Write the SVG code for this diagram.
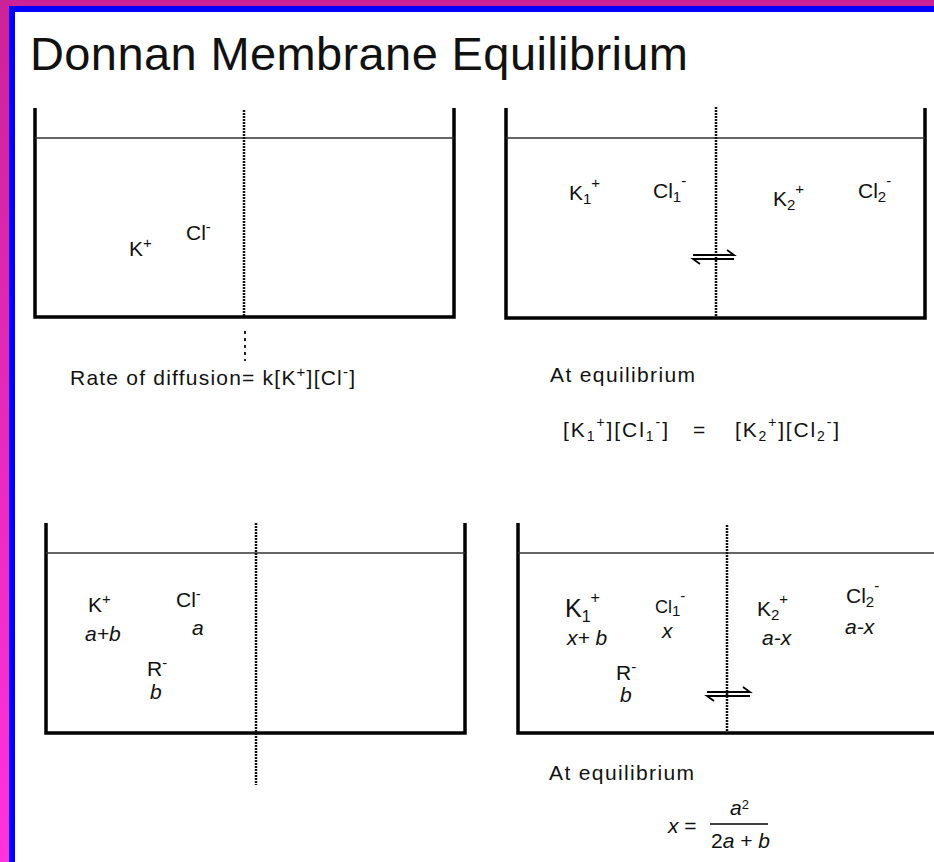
<svg xmlns="http://www.w3.org/2000/svg" width="934" height="862" viewBox="0 0 934 862">
<defs>
<linearGradient id="mag" x1="0" y1="0" x2="0" y2="1">
<stop offset="0" stop-color="#cc2299"/>
<stop offset="1" stop-color="#ff33dd"/>
</linearGradient>
</defs>
<style>
text{font-family:"Liberation Sans",Arial,sans-serif;fill:#111;}
.lbl{font-size:21px;}
.it{font-style:italic;}
.wall{fill:none;stroke:#000;stroke-width:3.5;}
.water{stroke:#333;stroke-width:1.5;}
.mem{stroke:#111;stroke-width:2.5;stroke-dasharray:2 1;}
.harp{stroke:#000;stroke-width:1.8;fill:none;}
</style>
<rect width="934" height="862" fill="#fff"/>
<rect x="0" y="0" width="9" height="862" fill="url(#mag)"/>
<rect x="0" y="0" width="934" height="6" fill="#cc2299"/>
<rect x="9" y="6" width="6" height="856" fill="#0000ff"/>
<rect x="9" y="6" width="925" height="6" fill="#0000ff"/>

<text id="title" x="30" y="70" font-size="47" textLength="658" lengthAdjust="spacing">Donnan Membrane Equilibrium</text>

<g id="beaker1">
<path class="wall" d="M35 108 V317 H454 V108"/>
<line class="water" x1="35" y1="138" x2="454" y2="138"/>
<line class="mem" x1="244" y1="110" x2="244" y2="316"/>
<line stroke="#222" stroke-width="2" stroke-dasharray="3 4" x1="245" y1="331" x2="245" y2="361"/>
<text class="lbl" x="129" y="256">K<tspan dy="-8" font-size="15">+</tspan></text>
<text class="lbl" x="186" y="240">Cl<tspan dy="-8" font-size="15">-</tspan></text>
<text class="lbl" x="70" y="385" textLength="285" lengthAdjust="spacing">Rate of diffusion= k[K<tspan dy="-8" font-size="15">+</tspan><tspan dy="8">][Cl</tspan><tspan dy="-8" font-size="15">-</tspan><tspan dy="8">]</tspan></text>
</g>

<g id="beaker2">
<path class="wall" d="M506 108 V318 H925 V108"/>
<line class="water" x1="506" y1="138" x2="925" y2="138"/>
<line class="mem" x1="716" y1="107" x2="716" y2="317"/>
<text class="lbl" x="569" y="200">K<tspan dy="4" font-size="15">1</tspan><tspan dy="-16" font-size="15">+</tspan></text>
<text class="lbl" x="653" y="198">Cl<tspan dy="4" font-size="15">1</tspan><tspan dy="-16" font-size="15">-</tspan></text>
<text class="lbl" x="773" y="206">K<tspan dy="4" font-size="15">2</tspan><tspan dy="-16" font-size="15">+</tspan></text>
<text class="lbl" x="858" y="198">Cl<tspan dy="4" font-size="15">2</tspan><tspan dy="-16" font-size="15">-</tspan></text>
<text class="lbl" x="550" y="382" textLength="145" lengthAdjust="spacing">At equilibrium</text>
<text class="lbl" x="563" y="437" textLength="105" lengthAdjust="spacing">[K<tspan dy="4" font-size="14">1</tspan><tspan dy="-14" font-size="14">+</tspan><tspan dy="10">][Cl</tspan><tspan dy="4" font-size="14">1</tspan><tspan dy="-14" font-size="14">-</tspan><tspan dy="10">]</tspan></text>
<text class="lbl" x="693" y="437">=</text>
<text class="lbl" x="735" y="437" textLength="104" lengthAdjust="spacing">[K<tspan dy="4" font-size="14">2</tspan><tspan dy="-14" font-size="14">+</tspan><tspan dy="10">][Cl</tspan><tspan dy="4" font-size="14">2</tspan><tspan dy="-14" font-size="14">-</tspan><tspan dy="10">]</tspan></text>
</g>

<g id="beaker3">
<path class="wall" d="M46 523 V733 H465 V523"/>
<line class="water" x1="46" y1="553" x2="465" y2="553"/>
<line class="mem" x1="256" y1="523" x2="256" y2="785"/>
<text class="lbl" x="88" y="612">K<tspan dy="-8" font-size="15">+</tspan></text>
<text class="lbl it" x="85" y="641">a+b</text>
<text class="lbl" x="176" y="607">Cl<tspan dy="-8" font-size="15">-</tspan></text>
<text class="lbl it" x="192" y="635">a</text>
<text class="lbl" x="147" y="676">R<tspan dy="-8" font-size="15">-</tspan></text>
<text class="lbl it" x="150" y="699">b</text>
</g>

<g id="beaker4">
<path class="wall" d="M518 523 V733 H934"/>
<line class="water" x1="518" y1="553" x2="934" y2="553"/>
<line class="mem" x1="727" y1="525" x2="727" y2="731"/>
<text x="565" y="617" font-size="25">K<tspan dy="5" font-size="16">1</tspan><tspan dy="-19" font-size="16">+</tspan></text>
<text class="lbl it" x="567" y="645">x+ b</text>
<text x="655" y="613" font-size="18">Cl<tspan dy="3" font-size="15">1</tspan><tspan dy="-15" font-size="15">-</tspan></text>
<text class="lbl it" x="662" y="638">x</text>
<text class="lbl" x="757" y="616">K<tspan dy="4" font-size="15">2</tspan><tspan dy="-16" font-size="15">+</tspan></text>
<text class="lbl it" x="762" y="645">a-x</text>
<text class="lbl" x="846" y="603">Cl<tspan dy="4" font-size="15">2</tspan><tspan dy="-16" font-size="15">-</tspan></text>
<text class="lbl it" x="845" y="634">a-x</text>
<text class="lbl" x="616" y="680">R<tspan dy="-8" font-size="15">-</tspan></text>
<text class="lbl it" x="620" y="702">b</text>
<text class="lbl" x="549" y="780" textLength="145" lengthAdjust="spacing">At equilibrium</text>
<text class="lbl it" x="668" y="833">x <tspan font-style="normal">=</tspan></text>
<text class="lbl it" x="730" y="815">a<tspan dy="-6" font-size="13" font-style="normal">2</tspan></text>
<line x1="710" y1="824" x2="768" y2="824" stroke="#000" stroke-width="1.5"/>
<text class="lbl" x="711" y="848">2<tspan font-style="italic">a</tspan> + <tspan font-style="italic">b</tspan></text>
</g>

<g id="connectors">
<path class="harp" d="M693 255 H734 L727 250"/>
<path class="harp" d="M734 259 H693 L700 264"/>
<path class="harp" d="M707 692 H750 L743 687"/>
<path class="harp" d="M750 696 H707 L714 701"/>
</g>
</svg>
